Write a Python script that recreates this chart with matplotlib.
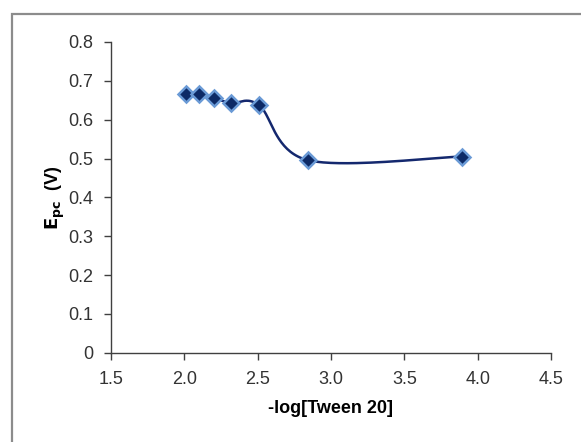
import numpy as np
import matplotlib
matplotlib.use('Agg')
import matplotlib.pyplot as plt
from matplotlib.patches import Rectangle

# data
log_tween = [2.01, 2.10, 2.20, 2.32, 2.51, 2.84, 3.89]
epc = [0.665, 0.665, 0.655, 0.643, 0.637, 0.496, 0.505]

x_ticks = [1.5, 2.0, 2.5, 3.0, 3.5, 4.0, 4.5]
y_ticks = [0, 0.1, 0.2, 0.3, 0.4, 0.5, 0.6, 0.7, 0.8]
y_tick_labels = ['0', '0.1', '0.2', '0.3', '0.4', '0.5', '0.6', '0.7', '0.8']


# excel-style smoothed line (bezier with 1/6 neighbour tangents)
def smooth(xs, ys, n=40):
    p = np.column_stack([xs, ys])
    out = []
    for i in range(len(p) - 1):
        p0 = p[i - 1] if i > 0 else p[i]
        p3 = p[i + 2] if i + 2 < len(p) else p[i + 1]
        c1 = p[i] + (p[i + 1] - p0) / 6
        c2 = p[i + 1] - (p3 - p[i]) / 6
        t = np.linspace(0, 1, n)[:, None]
        seg = ((1 - t) ** 3 * p[i] + 3 * (1 - t) ** 2 * t * c1
               + 3 * (1 - t) * t ** 2 * c2 + t ** 3 * p[i + 1])
        out.append(seg)
    s = np.vstack(out)
    return s[:, 0], s[:, 1]


plt.rcParams['font.family'] = ['Liberation Sans', 'DejaVu Sans']

fig = plt.figure(figsize=(5.81, 4.42), dpi=100)
ax = fig.add_axes([111 / 581, 1 - 352.7 / 442, 440 / 581, 310.7 / 442])

# gray outer frame running off the right/bottom edges
fig.patches.append(Rectangle((11.5 / 581, -0.1), 1.0, 1 - 13.5 / 442 + 0.1,
                             transform=fig.transFigure, fill=False,
                             edgecolor='#8c8c8c', linewidth=1.6))

sx, sy = smooth(log_tween, epc)
ax.plot(sx, sy, color='#14286e', linewidth=1.8, zorder=2)
ax.plot(log_tween, epc, linestyle='none', marker='D', markersize=8.5,
        markerfacecolor='#0d2a66', markeredgecolor='#6a9ad6',
        markeredgewidth=1.8, zorder=3)

ax.set_xlim(1.5, 4.5)
ax.set_ylim(0, 0.8)
ax.set_xticks(x_ticks)
ax.set_xticklabels([f'{v:.1f}' for v in x_ticks])
ax.set_yticks(y_ticks)
ax.set_yticklabels(y_tick_labels)

for side in ['top', 'right']:
    ax.spines[side].set_visible(False)
for side in ['left', 'bottom']:
    ax.spines[side].set_color('#404040')
    ax.spines[side].set_linewidth(1.0)

ax.tick_params(axis='both', direction='out', length=5, width=1.0,
               color='#404040', labelsize=13, labelcolor='#333333')
ax.tick_params(axis='y', pad=8)
ax.tick_params(axis='x', pad=8)

ax.set_xlabel('-log[Tween 20]', fontsize=13, fontweight='bold', labelpad=9)
ax.set_ylabel(r'$\mathbf{E_{pc}}$  (V)', fontsize=13, fontweight='bold')
ax.yaxis.set_label_coords(-44 / 440, 0.5)

fig.savefig('out.png', dpi=100)
